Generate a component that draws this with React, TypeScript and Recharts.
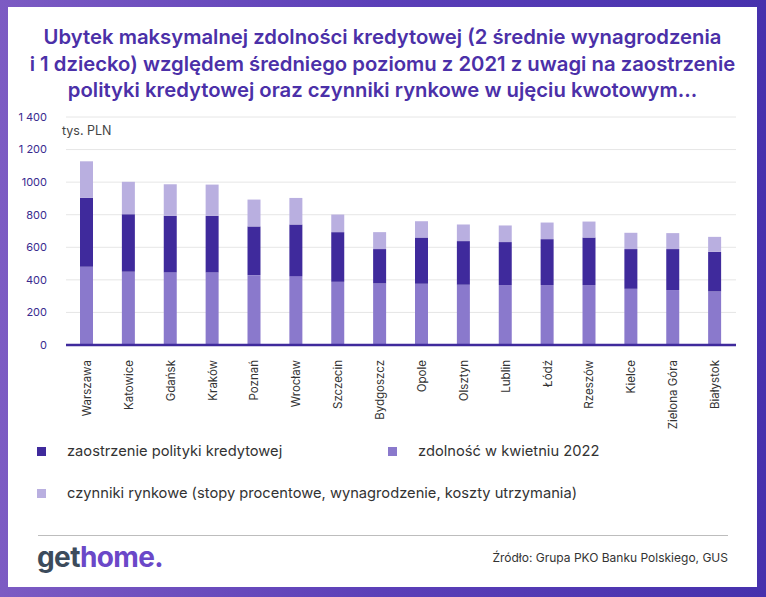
import React from 'react';
import { BarChart, Bar, XAxis, YAxis, CartesianGrid } from 'recharts';

const cities = ['Warszawa', 'Katowice', 'Gdańsk', 'Kraków', 'Poznań', 'Wrocław', 'Szczecin', 'Bydgoszcz', 'Opole', 'Olsztyn', 'Lublin', 'Łódź', 'Rzeszów', 'Kielce', 'Zielona Góra', 'Białystok'];
const zdolnosc2022 = [480, 450, 446, 446, 429, 423, 388, 378, 376, 370, 368, 368, 368, 345, 337, 329];
const zaostrzenie = [423, 353, 347, 347, 299, 317, 305, 211, 284, 268, 264, 282, 292, 244, 252, 243];
const czynnikiRynkowe = [225, 199, 194, 192, 165, 163, 108, 104, 100, 102, 102, 102, 98, 100, 98, 92];

const yTicks = [0, 200, 400, 600, 800, 1000, 1200, 1400];
const yTickLabels = ['0', '200', '400', '600', '800', '1000', '1 200', '1 400'];

const COLOR_DARK = '#3f2a9c';
const COLOR_MID = '#8a79cc';
const COLOR_LIGHT = '#b9afe0';
const FONT = "Inter, 'Noto Sans', sans-serif";

const data = cities.map((city, i) => ({
  city,
  zdolnosc: zdolnosc2022[i],
  zaostrzenie: zaostrzenie[i],
  rynkowe: czynnikiRynkowe[i],
}));

const CityTick = (props: any) => {
  const { x, y, payload } = props;
  return (
    <g transform={`translate(${x},${y})`}>
      <text
        transform="rotate(-90)"
        x={-7}
        y={0}
        dy="0.35em"
        textAnchor="end"
        fill="#333"
        fontSize={11.5}
        fontFamily={FONT}
      >
        {payload.value}
      </text>
    </g>
  );
};

const LegendItem = ({ color, label, left, top }: { color: string; label: string; left: number; top: number }) => (
  <div style={{ position: 'absolute', left, top, display: 'flex', alignItems: 'center' }}>
    <div style={{ width: 9, height: 9, background: color, marginRight: 21 }} />
    <span style={{ fontSize: 14.7, color: '#333', fontFamily: FONT }}>{label}</span>
  </div>
);

export default function App() {
  return (
    <div
      style={{
        position: 'absolute',
        left: 0,
        top: 0,
        width: 766,
        height: 597,
        background: 'linear-gradient(90deg, #7c5bc3 0%, #5b3fb8 50%, #4631ad 100%)',
        overflow: 'hidden',
        fontFamily: FONT,
      }}
    >
      <div style={{ position: 'absolute', left: 8, top: 7, width: 749, height: 580, background: '#fff' }} />
      <div
        style={{
          position: 'absolute',
          left: 8,
          top: 24,
          width: 749,
          textAlign: 'center',
          color: '#4b30a8',
          fontSize: 20.3,
          fontWeight: 600,
          lineHeight: '26.5px',
        }}
      >
        Ubytek maksymalnej zdolności kredytowej (2 średnie wynagrodzenia
        <br />
        i 1 dziecko) względem średniego poziomu z 2021 z uwagi na zaostrzenie
        <br />
        polityki kredytowej oraz czynniki rynkowe w ujęciu kwotowym...
      </div>
      <div style={{ position: 'absolute', left: 0, top: 0 }}>
        <BarChart width={766} height={432} data={data} margin={{ top: 117, right: 30, left: 0, bottom: 0 }}>
          <CartesianGrid vertical={false} stroke="#e6e6e6" />
          <YAxis
            width={66}
            domain={[0, 1400]}
            ticks={yTicks}
            interval={0}
            axisLine={false}
            tickLine={false}
            tickSize={0}
            tickMargin={19}
            tickFormatter={(v: number) => yTickLabels[yTicks.indexOf(v)]}
            tick={{ fill: '#3a2a8f', fontSize: 11, fontFamily: FONT }}
          />
          <XAxis
            dataKey="city"
            height={87}
            interval={0}
            tickLine={false}
            axisLine={{ stroke: COLOR_DARK, strokeWidth: 2.5 }}
            tick={<CityTick />}
          />
          <Bar dataKey="zdolnosc" stackId="a" fill={COLOR_MID} barSize={13} isAnimationActive={false} />
          <Bar dataKey="zaostrzenie" stackId="a" fill={COLOR_DARK} barSize={13} isAnimationActive={false} />
          <Bar dataKey="rynkowe" stackId="a" fill={COLOR_LIGHT} barSize={13} isAnimationActive={false} />
        </BarChart>
      </div>
      <div style={{ position: 'absolute', left: 62, top: 123, fontSize: 12.5, color: '#444' }}>tys. PLN</div>
      <LegendItem color={COLOR_DARK} label="zaostrzenie polityki kredytowej" left={37} top={442} />
      <LegendItem color={COLOR_MID} label="zdolność w kwietniu 2022" left={388} top={442} />
      <LegendItem
        color={COLOR_LIGHT}
        label="czynniki rynkowe (stopy procentowe, wynagrodzenie, koszty utrzymania)"
        left={37}
        top={484}
      />
      <div style={{ position: 'absolute', left: 38, top: 535, width: 690, height: 1, background: '#bdbdbd' }} />
      <div
        style={{
          position: 'absolute',
          left: 37,
          top: 538,
          fontSize: 28,
          fontWeight: 700,
          letterSpacing: -0.6,
          lineHeight: '38px',
        }}
      >
        <span style={{ color: '#3c4b5b' }}>get</span>
        <span style={{ color: '#6b48c8' }}>home.</span>
      </div>
      <div
        style={{
          position: 'absolute',
          right: 38,
          top: 550,
          fontSize: 12,
          color: '#333',
        }}
      >
        Źródło: Grupa PKO Banku Polskiego, GUS
      </div>
    </div>
  );
}
